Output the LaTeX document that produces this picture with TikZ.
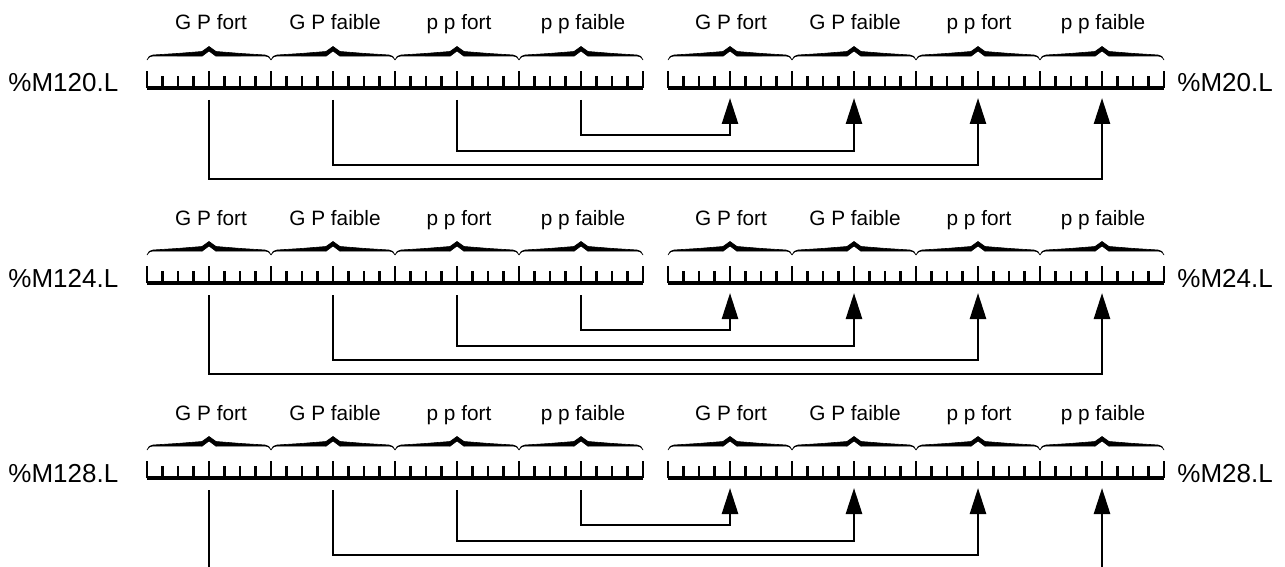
\documentclass[tikz,border=0pt]{standalone}
\usepackage{fontspec}
\setmainfont{Liberation Sans}
\usetikzlibrary{arrows.meta}

\tikzset{
  segbrace/.pic={
    \fill[line width=0.3pt,draw] (0,1) .. controls (1,-2) and (3,-4) .. (6,-4)
      -- (30,-5.5) -- (55,-7.5) -- (62,-12.5) -- (69,-7.5) -- (94,-5.5) -- (118,-4)
      .. controls (121,-4) and (123,-2) .. (124,1)
      .. controls (122,-2.5) and (120,-3) .. (118,-3)
      -- (94,-3) -- (69,-2.8) -- (62,-8) -- (55,-2.8) -- (30,-3) -- (6,-3)
      .. controls (4,-3) and (2,-2.5) .. (0,1) -- cycle;
  }
}

\begin{document}
\begin{tikzpicture}[x=0.5pt,y=-0.5pt,
    ruletick/.style={line width=1.1pt},
    rulebase/.style={line width=1.6pt},
    seglabel/.style={font=\fontsize{10.4}{12}\selectfont,anchor=base,inner sep=0pt},
    rowlabel/.style={font=\fontsize{13}{15}\selectfont,anchor=base west,inner sep=0pt},
    wire/.style={line width=1.3pt,-{Triangle[length=13pt,width=8pt]}}]
  \clip (0,0) rectangle (1285,567);
  \foreach \r/\ln/\rn in {0/120/20,1/124/24,2/128/28} {
    \pgfmathsetmacro\oy{195*\r}
    \node[rowlabel] (lt\r) at (8,92+\oy) {\%M\ln.L};
    \node[rowlabel] (rt\r) at (1177,92+\oy) {\%M\rn.L};
    % the two rulers
    \foreach \x in {147,668} {
      \draw[rulebase] (\x,88+\oy) -- (\x+496,88+\oy);
      \foreach \i in {0,...,32}
        \draw[ruletick] (\x+15.5*\i,88+\oy) -- ++(0,-12);
      \foreach \i in {0,4,...,32}
        \draw[ruletick] (\x+15.5*\i,88+\oy) -- ++(0,-17);
    }
    \foreach \k/\t in {0/G P fort,1/G P faible,2/p p fort,3/p p faible} {
      \node[seglabel] (a\r\k) at (211+124*\k,30+\oy) {\t};
      \node[seglabel] (b\r\k) at (731+124*\k,30+\oy) {\t};
      \pic at (147+124*\k,59+\oy) {segbrace};
      \pic at (668+124*\k,59+\oy) {segbrace};
      \coordinate (s\r\k) at (209+124*\k,100+\oy);
      \coordinate (t\r\k) at (730+124*\k,98+\oy);
    }
    \foreach \k/\j/\lv in {3/0/35,2/1/51,1/2/65,0/3/79}
      \draw[wire] (s\r\k) -- ++(0,\lv) -| (t\r\j);
  }
\end{tikzpicture}
\end{document}
